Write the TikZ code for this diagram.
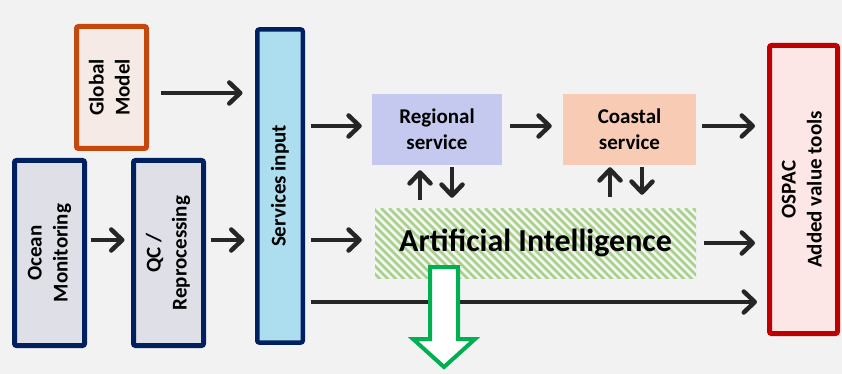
\documentclass[tikz,border=0pt]{standalone}
\usepackage{fontspec}
\setmainfont{Carlito}
\usetikzlibrary{arrows.meta}

\definecolor{bg}{HTML}{F2F2F2}
\definecolor{navy}{HTML}{002060}
\definecolor{obsfill}{HTML}{DEDFE7}
\definecolor{modline}{HTML}{C4470C}
\definecolor{modfill}{HTML}{F5EAE6}
\definecolor{svcfill}{HTML}{ADDEF0}
\definecolor{regfill}{HTML}{C5C9EF}
\definecolor{coastfill}{HTML}{F8CBB4}
\definecolor{hatch}{HTML}{A9D18E}
\definecolor{aibase}{HTML}{F5F6F2}
\definecolor{ospline}{HTML}{C00000}
\definecolor{ospfill}{HTML}{FDE6E6}
\definecolor{outgreen}{HTML}{00B050}
\definecolor{arrowgray}{HTML}{262626}

\tikzset{
  box/.style={rectangle, rounded corners=2pt, line width=5pt, inner sep=0pt,
    align=center, font=\fontsize{21}{26}\selectfont\bfseries},
  flatbox/.style={rectangle, inner sep=0pt, align=center,
    font=\fontsize{21}{26}\selectfont\bfseries},
  arr/.style={draw=arrowgray, line width=4.5pt,
    -{Straight Barb[length=11pt,width=21pt,round]}},
}

\begin{document}
\begin{tikzpicture}[x=1pt, y=-1pt]
  % canvas
  \fill[bg] (0,0) rectangle (842,374);
  \useasboundingbox (0,0) rectangle (842,374);

  % input blocks
  \node[box, draw=modline, fill=modfill, minimum width=70pt, minimum height=122pt]
    (gm) at (111.5,87.5) {\rotatebox{90}{\begin{tabular}{c}Global\\Model\end{tabular}}};
  \node[box, draw=navy, fill=obsfill, minimum width=70pt, minimum height=185pt]
    (om) at (49.5,253) {\rotatebox{90}{\begin{tabular}{c}Ocean\\Monitoring\end{tabular}}};
  \node[box, draw=navy, fill=obsfill, minimum width=70pt, minimum height=185pt]
    (qc) at (168.5,253) {\rotatebox{90}{\begin{tabular}{c}QC /\\Reprocessing\end{tabular}}};
  \node[box, draw=navy, fill=svcfill, line width=4.5pt, minimum width=45.5pt, minimum height=313pt]
    (svc) at (280,186) {\rotatebox{90}{Services input}};

  % services
  \node[flatbox, fill=regfill, minimum width=130pt, minimum height=71pt]
    (reg) at (437,129.5) {Regional\\service};
  \node[flatbox, fill=coastfill, minimum width=133pt, minimum height=71pt]
    (coast) at (629.5,129.5) {Coastal\\service};

  % artificial intelligence layer with diagonal hatching
  \node[rectangle, inner sep=0pt, fill=aibase, minimum width=321pt, minimum height=70pt,
    font=\fontsize{32}{36}\selectfont\bfseries,
    path picture={
      \foreach \i in {-90,-82,...,330}
        \draw[hatch, line width=2.8pt]
          ([xshift=\i pt]path picture bounding box.north west) -- ++(90,90);
    }]
    (ai) at (535.5,243) {Artificial Intelligence};

  % output block
  \node[box, draw=ospline, fill=ospfill, minimum width=68pt, minimum height=288pt]
    (ospac) at (803.5,189.5) {\rotatebox{90}{\begin{tabular}{c}OSPAC\\Added value tools\end{tabular}}};

  % connector end points
  \coordinate (lane) at (0,302);
  \coordinate (gmout) at ([yshift=-5.5pt]gm.east);
  \coordinate (omout) at ([yshift=13pt]om.east);
  \coordinate (qcin)  at ([yshift=13pt]qc.west);
  \coordinate (qcout) at ([yshift=13pt]qc.east);
  \coordinate (regin) at ([yshift=3.5pt]reg.west);
  \coordinate (regout) at ([yshift=3.5pt]reg.east);
  \coordinate (coastin) at ([yshift=3.5pt]coast.west);
  \coordinate (coastout) at ([yshift=3.5pt]coast.east);
  \coordinate (aiin) at ([yshift=3pt]ai.west);
  \coordinate (regup) at ([xshift=-17pt]reg.south);
  \coordinate (regdown) at ([xshift=15pt]reg.south);
  \coordinate (coastup) at ([xshift=-19.5pt]coast.south);
  \coordinate (coastdown) at ([xshift=12.5pt]coast.south);

  % connectors
  \draw[arr, shorten <=12pt, shorten >=12.5pt] (gmout) -- (svc.west |- gmout);
  \draw[arr, shorten <=3.5pt, shorten >=6.5pt] (omout) -- (qcin);
  \draw[arr, shorten <=4.5pt, shorten >=10.5pt] (qcout) -- (svc.west |- qcout);
  \draw[arr, shorten <=5.5pt, shorten >=10pt] (svc.east |- regin) -- (regin);
  \draw[arr, shorten <=5.5pt, shorten >=13pt] (svc.east |- aiin) -- (aiin);
  \draw[arr, shorten <=5.5pt, shorten >=10pt] (svc.east |- lane) -- (ospac.west |- lane);
  \draw[arr, shorten <=8pt, shorten >=11pt] (regout) -- (coastin);
  \draw[arr, shorten <=6pt, shorten >=12pt] (coastout) -- (ospac.west |- coastout);
  \draw[arr, shorten <=8pt, shorten >=12pt] (ai.east) -- (ospac.west |- ai.east);

  % exchanges between the services and the AI layer
  \draw[arr, shorten <=8pt, shorten >=5pt] (regup |- ai.north) -- (regup);
  \draw[arr, shorten <=2pt, shorten >=10pt] (regdown) -- (regdown |- ai.north);
  \draw[arr, shorten <=11pt, shorten >=2pt] (coastup |- ai.north) -- (coastup);
  \draw[arr, shorten <=2pt, shorten >=13pt] (coastdown) -- (coastdown |- ai.north);

  % outgoing block arrow below the AI layer
  \draw[outgreen, fill=white, line width=4pt, line join=miter]
    (430,267) -- (458,267) -- (458,339) -- (475,339) -- (444,367)
    -- (413,339) -- (430,339) -- cycle;
\end{tikzpicture}
\end{document}
